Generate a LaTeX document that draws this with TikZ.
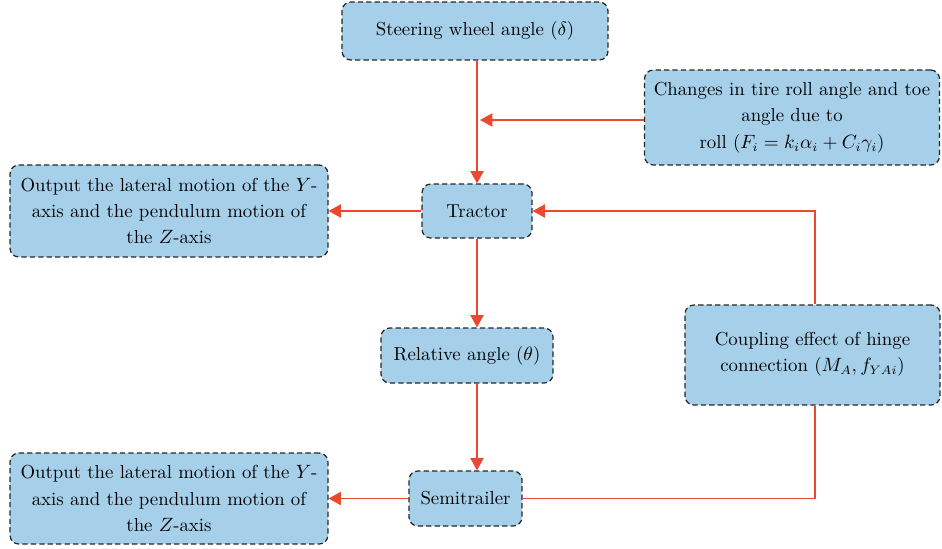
\documentclass[tikz,border=0pt]{standalone}
\usepackage{tikz}
\usetikzlibrary{arrows.meta}
\definecolor{boxblue}{RGB}{166,208,234}
\definecolor{linkred}{RGB}{234,72,48}
\tikzset{block/.style={draw=black!85,line width=0.7pt,dash pattern=on 3pt off 1.8pt,
    fill=boxblue,rounded corners=5pt,align=center,inner sep=2pt,
    font=\fontsize{10.7}{15}\selectfont}}
\newcommand{\Block}[5]% pos, name, width, height, text
{\node[block,minimum width=#3cm,minimum height=#4cm] (#2) at (#1) {#5};}
\newcommand{\Flow}[2]%
{\draw[-{Triangle[length=7pt,width=7.5pt]},linkred,line width=0.8pt] #1 -- #2;}

\begin{document}
\begin{tikzpicture}[x=0.02cm,y=-0.02cm]
      \useasboundingbox (0,0) rectangle (942,548);
      \Block{475, 31}{Steering}{5.32}{1.16}{Steering wheel angle ($\delta$)}
      \Block{792, 117.5}{Changes}{5.9}{1.9}{Changes in tire roll angle and toe\\angle due to\\roll ($F_i = k_i\alpha_i + C_i\gamma_i$)}
      \Block{477, 211}{Tractor}{2.2}{1.08}{Tractor}
      \Block{169, 211}{OutTractor}{6.36}{1.84}{Output the lateral motion of the $Y$-\\axis and the pendulum motion of\\the $Z$-axis}
      \Block{467, 355.5}{Relative}{3.44}{1.1}{Relative angle ($\theta$)}
      \Block{812.5, 355}{Coupling}{5.1}{2.0}{Coupling effect of hinge\\connection ($M_A, f_{YAi}$)\\[-0.4cm]}
      \Block{465.5, 498.5}{Semitrailer}{2.26}{1.1}{Semitrailer}
      \Block{169, 498.5}{OutSemi}{6.36}{1.82}{Output the lateral motion of the $Y$-\\axis and the pendulum motion of\\the $Z$-axis}
      \coordinate (roll) at (480,120);
      \coordinate (hinge) at (815,211);
      \Flow{(Steering.south -| Tractor)}{(Tractor.north)}
      \Flow{(Changes.west |- roll)}{(roll)}
      \Flow{(Tractor.west)}{(OutTractor.east)}
      \Flow{(Tractor.south)}{(Relative.north -| Tractor)}
      \Flow{(Relative.south -| Tractor)}{(Semitrailer.north -| Tractor)}
      \Flow{(Semitrailer.west)}{(OutSemi.east)}
      \Flow{(Coupling.north -| hinge)}{(hinge) -- (Tractor.east)}
      \draw[linkred,line width=0.8pt] (Semitrailer.east) -| (Coupling.south -| hinge);
    \end{tikzpicture}
\end{document}
